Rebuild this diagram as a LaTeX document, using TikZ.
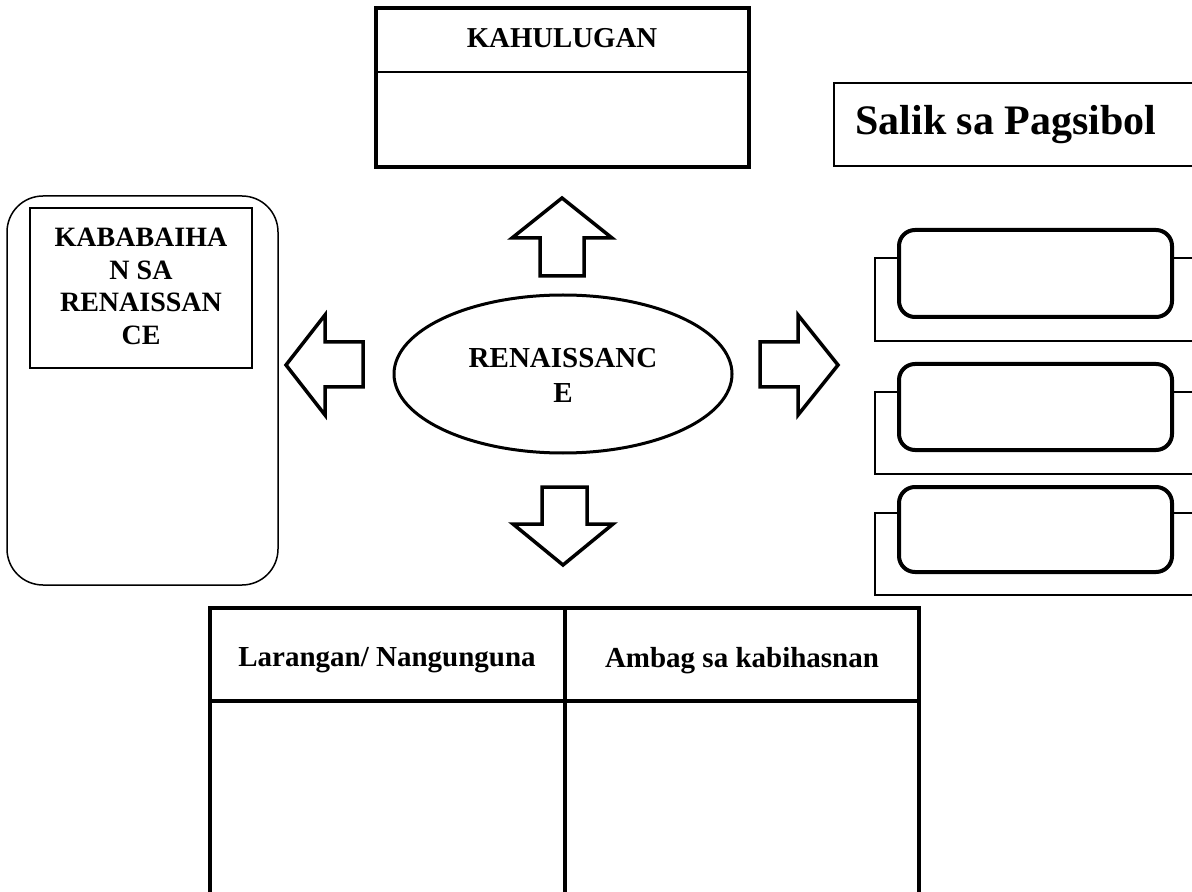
\documentclass[tikz,border=0pt]{standalone}
\usepackage{fontspec}
\setmainfont{Liberation Serif}
\usetikzlibrary{shapes.geometric}
\tikzset{
  thickbox/.style={draw, line width=2pt},
  thinbox/.style={draw, line width=0.75pt},
  blockarrow/.style={draw, line width=1.75pt, line join=miter, fill=white},
  lbl/.style={inner sep=0pt, font=\bfseries, align=center},
}
\begin{document}
\begin{tikzpicture}[x=0.5pt, y=-0.5pt]
\useasboundingbox (0,0) rectangle (1192,892);
\clip (0,0) rectangle (1192,892);
% KAHULUGAN box
\draw[line width=2pt] (376,8) rectangle (749,167);
\draw[line width=0.6pt] (376,72) -- (749,72);
\node[lbl, anchor=north, font=\bfseries\fontsize{14.4}{17}\selectfont] (kahulugan) at (562,28) {KAHULUGAN};
% Salik sa Pagsibol
\draw[thinbox] (1215,83) -- (834,83) -- (834,166) -- (1215,166);
\node[lbl, anchor=north west, font=\bfseries\fontsize{21}{24}\selectfont] (salik) at (855,105) {Salik sa Pagsibol};
% left rounded box
\draw[thinbox, rounded corners=36pt*0.5] (7,196) rectangle (278,585);
\draw[thinbox] (30,208) rectangle (252,368);
\node[lbl, anchor=north, font=\bfseries\fontsize{14}{16.25}\selectfont] (kababaihan) at (141,228) {KABABAIHA\\N SA\\RENAISSAN\\CE};
% central ellipse
\node[ellipse, draw, line width=1.5pt, minimum width=338*0.5pt, minimum height=158*0.5pt, inner sep=0pt] (ren) at (563,374) {};
\node[lbl, anchor=north, font=\bfseries\fontsize{14.5}{17.5}\selectfont] (rentext) at (563,348) {RENAISSANC\\E};
% block arrows
\draw[blockarrow] (562,198) -- (612,238) -- (584,238) -- (584,276) -- (540,276) -- (540,238) -- (512,238) -- cycle;
\draw[blockarrow] (563,565) -- (613,524) -- (587,524) -- (587,487) -- (542,487) -- (542,524) -- (513,524) -- cycle;
\draw[blockarrow] (286,365) -- (325,315) -- (325,342) -- (363,342) -- (363,387) -- (325,387) -- (325,415) -- cycle;
\draw[blockarrow] (838,365) -- (798,315) -- (798,342) -- (760,342) -- (760,387) -- (798,387) -- (798,415) -- cycle;
% right side bracket frames and rounded boxes
\foreach \t/\b/\rt/\rb/\n in {258/341/230/317/a, 392/474/364/450/b, 513/595/487/572/c}{
  \draw[thinbox] (1215,\t) -- (875,\t) -- (875,\b) -- (1215,\b);
  \draw[line width=2pt, rounded corners=8pt, fill=white] (899,\rt) rectangle (1172,\rb);
}
% table
\draw[line width=2pt] (210,905) -- (210,608) -- (919,608) -- (919,905);
\draw[line width=2pt] (210,701) -- (919,701);
\draw[line width=2pt] (565,608) -- (565,905);
\node[lbl, anchor=north, font=\bfseries\fontsize{14.5}{17}\selectfont] (larangan) at (387,647) {Larangan/ Nangunguna};
\node[lbl, anchor=north, font=\bfseries\fontsize{14.5}{17}\selectfont] (ambag) at (742,647) {Ambag sa kabihasnan};
\end{tikzpicture}
\end{document}
